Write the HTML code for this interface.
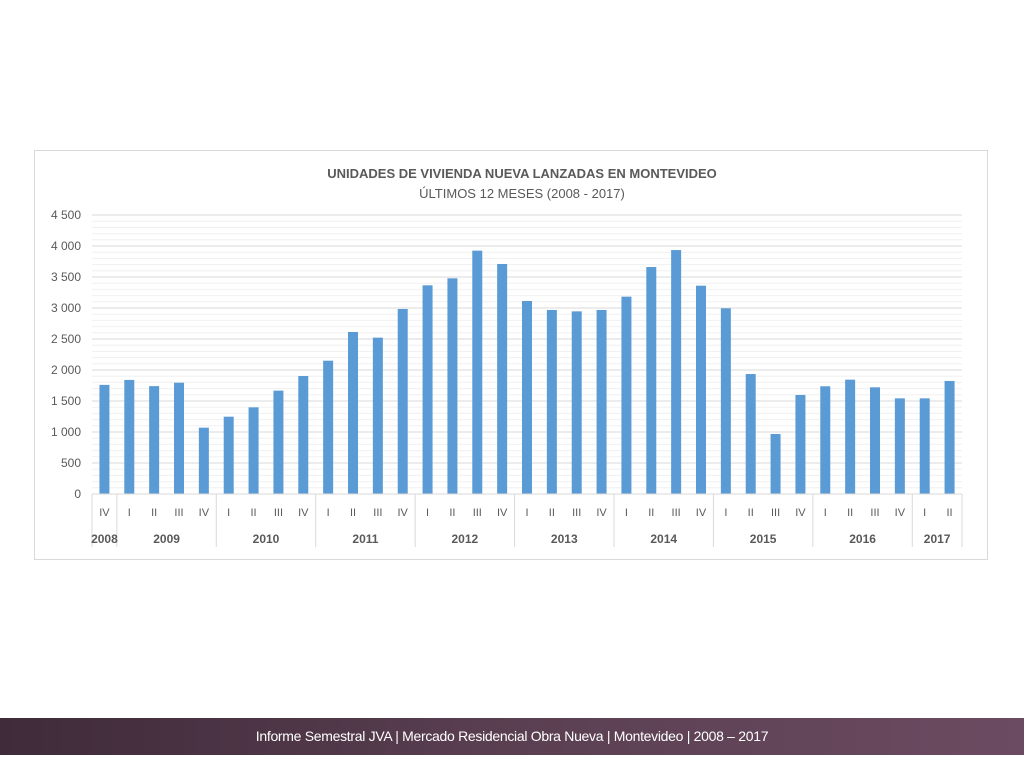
<!DOCTYPE html>
<html><head><meta charset="utf-8"><style>
body{margin:0;width:1024px;height:768px;background:#fff;position:relative;overflow:hidden;font-family:"Liberation Sans",sans-serif}
#frame{position:absolute;left:34px;top:150px;width:954px;height:410px;border:1px solid #d9d9d9;box-sizing:border-box}
#footer{position:absolute;left:0;top:718px;width:1024px;height:37px;background:linear-gradient(90deg,#3f2b3a,#5a3f51 50%,#6b4b61);color:#fff;font-size:14px;text-align:center;line-height:37px;letter-spacing:-0.3px}
</style></head><body>
<div id="frame"></div>
<svg id="chart" width="1024" height="768" style="position:absolute;left:0;top:0">
<text x="522" y="178" text-anchor="middle" font-size="13" font-weight="bold" fill="#595959">UNIDADES DE VIVIENDA NUEVA LANZADAS EN MONTEVIDEO</text>
<text x="522" y="198" text-anchor="middle" font-size="13" fill="#595959">ÚLTIMOS 12 MESES (2008 - 2017)</text>
<g id="grid"></g><g id="bars"></g><g id="xaxis"></g>
</svg>
<div id="footer">Informe Semestral JVA | Mercado Residencial Obra Nueva | Montevideo | 2008 – 2017</div>
<script>
const quarters=["IV","I","II","III","IV","I","II","III","IV","I","II","III","IV","I","II","III","IV","I","II","III","IV","I","II","III","IV","I","II","III","IV","I","II","III","IV","I","II"];
const values=[1760,1840,1740,1795,1070,1247,1398,1667,1903,2150,2613,2522,2984,3366,3479,3925,3710,3113,2968,2946,2968,3183,3661,3935,3360,2995,1935,968,1597,1737,1844,1721,1543,1543,1823];
const years=["2008","2009","2010","2011","2012","2013","2014","2015","2016","2017"];
const yearCounts=[1,4,4,4,4,4,4,4,4,2];
const yTicks=[0,500,1000,1500,2000,2500,3000,3500,4000,4500];
const NS="http://www.w3.org/2000/svg";
const x0=92,x1=962,y0=494,yMax=4500,yTop=215;
const cw=(x1-x0)/values.length;
const Y=v=>y0-(v/yMax)*(y0-yTop);
const X=i=>x0+cw*(i+0.5);
function mk(t,a,p){const e=document.createElementNS(NS,t);for(const k in a)e.setAttribute(k,a[k]);p.appendChild(e);return e;}
const grid=document.getElementById('grid'),bars=document.getElementById('bars'),xa=document.getElementById('xaxis');
for(let v=100;v<=yMax;v+=100){if(v%500===0)continue;const l=mk('line',{x1:x0,x2:x1,y1:Y(v),y2:Y(v),stroke:'#f0f0f0','stroke-width':1},grid);

}
yTicks.forEach(v=>{if(v>0){const l=mk('line',{x1:x0,x2:x1,y1:Y(v),y2:Y(v),stroke:'#d9d9d9','stroke-width':1},grid);

}
const t=mk('text',{x:81,y:Y(v)+4,'text-anchor':'end','font-size':12,fill:'#595959'},grid);t.textContent=String(v).replace(/\B(?=(\d{3})+(?!\d))/g,' ');

});
values.forEach((v,i)=>{const r=mk('rect',{x:X(i)-5,y:Y(v),width:10,height:y0-Y(v),fill:'#5b9bd5'},bars);


const t=mk('text',{x:X(i),y:516,'text-anchor':'middle','font-size':11,fill:'#595959'},xa);t.textContent=quarters[i];

});
const ax=mk('line',{x1:x0,x2:x1,y1:y0,y2:y0,stroke:'#d9d9d9'},xa);


let start=0;
const sep=i=>{const l=mk('line',{x1:x0+cw*i,x2:x0+cw*i,y1:y0,y2:547,stroke:'#d9d9d9'},xa);

};
sep(0);
years.forEach((y,k)=>{const end=start+yearCounts[k];sep(end);
const t=mk('text',{x:x0+cw*(start+end)/2,y:543,'text-anchor':'middle','font-size':12,'font-weight':'bold',fill:'#595959'},xa);t.textContent=y;


start=end;});
</script>
</body></html>
